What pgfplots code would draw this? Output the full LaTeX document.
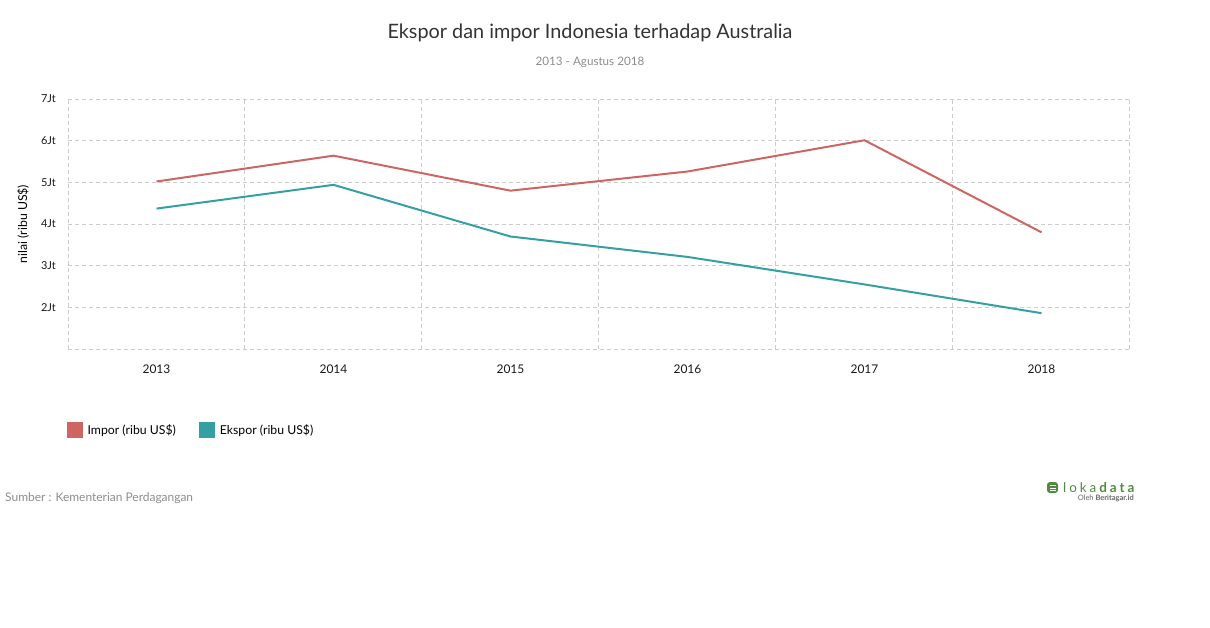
\documentclass[border=0pt]{standalone}
\usepackage{fontspec}
\setmainfont{Lato}
\usepackage{pgfplots}
\pgfplotsset{compat=1.18}
\definecolor{impor}{HTML}{CD6562}
\definecolor{ekspor}{HTML}{35A0A4}
\definecolor{gridc}{HTML}{CCCCCC}
\definecolor{loka}{HTML}{4E8B3E}
\begin{document}
\begin{tikzpicture}[x=1bp,y=1bp]
\useasboundingbox (0,0) rectangle (1210,-628);
\node[font=\fontsize{19.9}{23}\selectfont, text=black!80] at (590,-33) {Ekspor dan impor Indonesia terhadap Australia};
\node[font=\fontsize{11.7}{13}\selectfont, text=black!45] at (590,-62) {2013 - Agustus 2018};
\begin{axis}[
  at={(68bp,-349bp)}, anchor=south west,
  scale only axis, width=1062bp, height=250bp,
  xmin=-0.5, xmax=5.5, ymin=1, ymax=7,
  axis line style={draw=none},
  xtick={0,1,2,3,4,5},
  xticklabels={2013,2014,2015,2016,2017,2018},
  minor xtick={-0.5,0.5,1.5,2.5,3.5,4.5,5.5},
  ytick={1,2,3,4,5,6,7},
  yticklabels={,2Jt,3Jt,4Jt,5Jt,6Jt,7Jt},
  major tick length=0pt, minor tick length=0pt,
  xminorgrids, ymajorgrids,
  grid style={gridc, line width=1bp, dash pattern=on 4bp off 3bp},
  minor grid style={gridc, line width=1bp, dash pattern=on 4bp off 3bp},
  yticklabel style={anchor=east, inner sep=0pt, xshift=-12bp, font=\fontsize{11}{13}\selectfont, text=black!90},
  xticklabel style={anchor=north, inner sep=0pt, yshift=-15.5bp, font=\fontsize{12}{14}\selectfont, text=black!90},
  ylabel={nilai (ribu US\$)},
  ylabel style={at={(axis description cs:-0.0424,0.5)}, anchor=center, font=\fontsize{12.3}{14}\selectfont},
  legend style={at={(axis description cs:-0.0038,-0.285)}, anchor=north west, draw=none, fill=none,
    font=\fontsize{12.3}{14}\selectfont, legend columns=2,
    /tikz/every even column/.append style={column sep=21.5bp}},
  legend image code/.code={\fill[#1,draw=none] (0bp,-8bp) rectangle (16bp,8bp); \path[draw=none,fill=none] (0bp,0bp) -- (18.5bp,0bp);},
]
\addplot[impor, line width=2bp] coordinates {(0,5.02) (1,5.64) (2,4.80) (3,5.26) (4,6.01) (5,3.80)};
\addlegendentry{Impor (ribu US\$)}
\addplot[ekspor, line width=2bp] coordinates {(0,4.37) (1,4.94) (2,3.70) (3,3.21) (4,2.55) (5,1.86)};
\addlegendentry{Ekspor (ribu US\$)}
\end{axis}
\node[anchor=west, font=\fontsize{12}{14}\selectfont, text=black!45, inner sep=0pt] at (5,-498.5) {Sumber : Kementerian Perdagangan};
\fill[loka, rounded corners=3bp] (1047,-482) rectangle (1058,-493);
\draw[white, line width=1bp] (1050,-485.5) -- (1055.5,-485.5) (1050,-488) -- (1055.5,-488) (1050,-490.5) -- (1055.5,-490.5);
\node[anchor=west, inner sep=0pt, text=loka, font=\fontsize{13.5}{15}\selectfont\addfontfeatures{LetterSpace=22}] at (1063,-487.5) {loka\textbf{data}};
\node[anchor=east, inner sep=0pt, text=black!60, font=\fontsize{7.5}{9}\selectfont] at (1134,-498) {Oleh \textbf{Beritagar.id}};
\end{tikzpicture}
\end{document}
